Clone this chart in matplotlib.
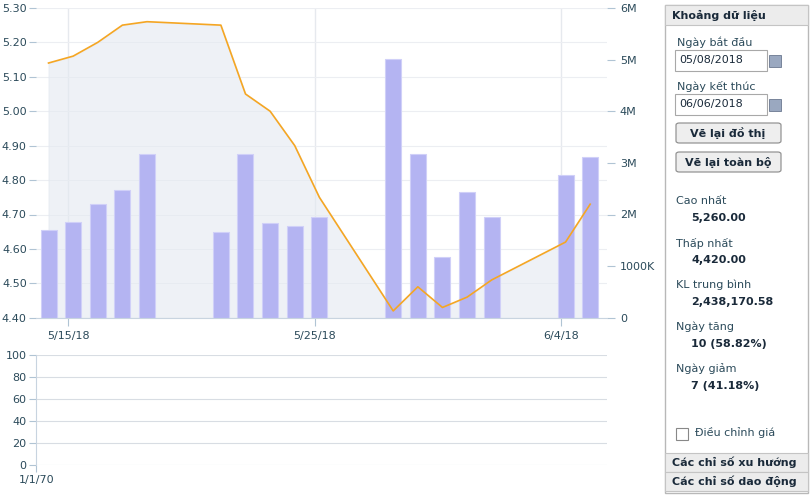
import matplotlib.pyplot as plt
import matplotlib.patches as mpatches
import numpy as np

# Data: days counted from 5/15/18
day_offsets = [-1, 0, 1, 2, 3, 6, 7, 8, 9, 10, 13, 14, 15, 16, 17, 20, 21]
prices = [5.14, 5.16, 5.20, 5.25, 5.26, 5.25, 5.05, 5.00, 4.90, 4.75,
          4.42, 4.49, 4.43, 4.46, 4.51, 4.62, 4.73]
volumes_m = [1.70, 1.86, 2.21, 2.47, 3.17, 1.66, 3.18, 1.84, 1.77, 1.95,
             5.02, 3.18, 1.17, 2.43, 1.95, 2.77, 3.11]
date_ticks = [0, 10, 20]
date_labels = ['5/15/18', '5/25/18', '6/4/18']
price_ticks = [4.40, 4.50, 4.60, 4.70, 4.80, 4.90, 5.00, 5.10, 5.20, 5.30]
vol_ticks = [0, 1, 2, 3, 4, 5, 6]
vol_labels = ['0', '1000K', '2M', '3M', '4M', '5M', '6M']
osc_ticks = [0, 20, 40, 60, 80, 100]

side_items = [('Cao nhất', '5,260.00'), ('Thấp nhất', '4,420.00'),
              ('KL trung bình', '2,438,170.58'), ('Ngày tăng', '10 (58.82%)'),
              ('Ngày giảm', '7 (41.18%)')]

txt = '#2b4a5a'
plt.rcParams['font.family'] = 'DejaVu Sans'
fig = plt.figure(figsize=(8.1, 4.95), dpi=100)
fig.patch.set_facecolor('white')

x = np.array(day_offsets) + 0.19

ax = fig.add_axes([0.045, 0.358, 0.704, 0.626])
ax.set_facecolor('#fbfbfc')
ax2 = ax.twinx()
ax.set_zorder(2); ax.patch.set_visible(False)
ax2.fill_between(x, (np.array(prices) - 4.40) / 0.9 * 6, 0, color='#e4e9f1', alpha=0.6, zorder=1)
ax2.bar(x, volumes_m, width=0.65, color='#b4b4f2', edgecolor='#d0d0f8', linewidth=0.8, zorder=2)
ax2.set_ylim(0, 6)
ax2.set_yticks(vol_ticks)
ax2.set_yticklabels(vol_labels)
ax.plot(x, prices, color='#f5a623', lw=1.2, zorder=3)
ax.set_ylim(4.40, 5.30)
ax.set_yticks(price_ticks)
ax.set_yticklabels(['%.2f' % v for v in price_ticks])
ax.set_xlim(-1.3, 21.86)
ax.set_xticks(date_ticks)
ax.set_xticklabels(date_labels)
for d in date_ticks:
    ax2.axvline(d, color='#e6e9ee', lw=1, zorder=0)
for v in price_ticks:
    ax2.axhline((v - 4.40) / 0.9 * 6, color='#eceef2', lw=0.8, zorder=0)
for a in (ax, ax2):
    for s in a.spines.values():
        s.set_visible(False)
    a.tick_params(colors='#b0c4d4', labelcolor=txt, labelsize=8, length=6)
ax.spines['bottom'].set_visible(True)
ax.spines['bottom'].set_color('#c8d4e0')
ax.tick_params(axis='y', pad=2, length=5)

# lower oscillator panel
axl = fig.add_axes([0.045, 0.061, 0.704, 0.222])
axl.set_ylim(0, 100)
axl.set_yticks(osc_ticks)
axl.set_xlim(0, 1)
axl.set_xticks([0])
axl.set_xticklabels(['1/1/70'])
axl.grid(axis='y', color='#d8dde3', lw=0.8)
for s in axl.spines.values():
    s.set_visible(False)
axl.spines['left'].set_visible(True)
axl.spines['left'].set_color('#c8d4e0')
axl.tick_params(colors='#b0c4d4', labelcolor=txt, labelsize=8, length=5, pad=2)

# side panel
def fx(px): return px / 810
def fy(py): return 1 - py / 495
fig.patches.append(mpatches.Rectangle((fx(665), fy(493)), fx(143), 488 / 495,
                   transform=fig.transFigure, fc='white', ec='#b8b8b8', lw=1))
for y0, y1, label in [(5, 25, 'Khoảng dữ liệu'), (453, 472, 'Các chỉ số xu hướng'),
                      (472, 491, 'Các chỉ số dao động')]:
    fig.patches.append(mpatches.Rectangle((fx(665), fy(y1)), fx(143), (y1 - y0) / 495,
                       transform=fig.transFigure, fc='#ececec', ec='#c4c4c4', lw=0.8))
    fig.text(fx(672), fy((y0 + y1) / 2), label, fontsize=8, weight='bold',
             color='#1a2a3a', va='center')
for y0, lab, val in [(42, 'Ngày bắt đầu', '05/08/2018'), (86, 'Ngày kết thúc', '06/06/2018')]:
    fig.text(fx(677), fy(y0), lab, fontsize=8, color=txt, va='center')
    fig.patches.append(mpatches.Rectangle((fx(675), fy(y0 + 29)), fx(92), 21 / 495,
                       transform=fig.transFigure, fc='white', ec='#a8a8a8', lw=0.8))
    fig.text(fx(679), fy(y0 + 18), val, fontsize=8, color='#1a2a3a', va='center')
    fig.patches.append(mpatches.Rectangle((fx(769), fy(y0 + 25)), fx(12), 12 / 495,
                       transform=fig.transFigure, fc='#9aa8c0', ec='#6a7890', lw=0.6))
for yc, lab in [(133, 'Vẽ lại đồ thị'), (162, 'Vẽ lại toàn bộ')]:
    fig.patches.append(mpatches.FancyBboxPatch((fx(676), fy(yc + 10)), fx(105), 20 / 495,
                       boxstyle='round,pad=0,rounding_size=0.004', transform=fig.transFigure,
                       fc='#eeeeee', ec='#888888', lw=0.8))
    fig.text(fx(728), fy(yc), lab, fontsize=8, weight='bold', color='#1a2a3a',
             ha='center', va='center')
for i, (lab, val) in enumerate(side_items):
    y0 = 201 + i * 42
    fig.text(fx(676), fy(y0), lab, fontsize=8, color=txt, va='center')
    fig.text(fx(691), fy(y0 + 17), val, fontsize=8, weight='bold', color='#1a2a3a', va='center')
fig.patches.append(mpatches.Rectangle((fx(676), fy(440)), fx(12), 12 / 495,
                   transform=fig.transFigure, fc='white', ec='#888888', lw=0.8))
fig.text(fx(695), fy(433), 'Điều chỉnh giá', fontsize=8, color=txt, va='center')

fig.savefig('out.png', dpi=100)
